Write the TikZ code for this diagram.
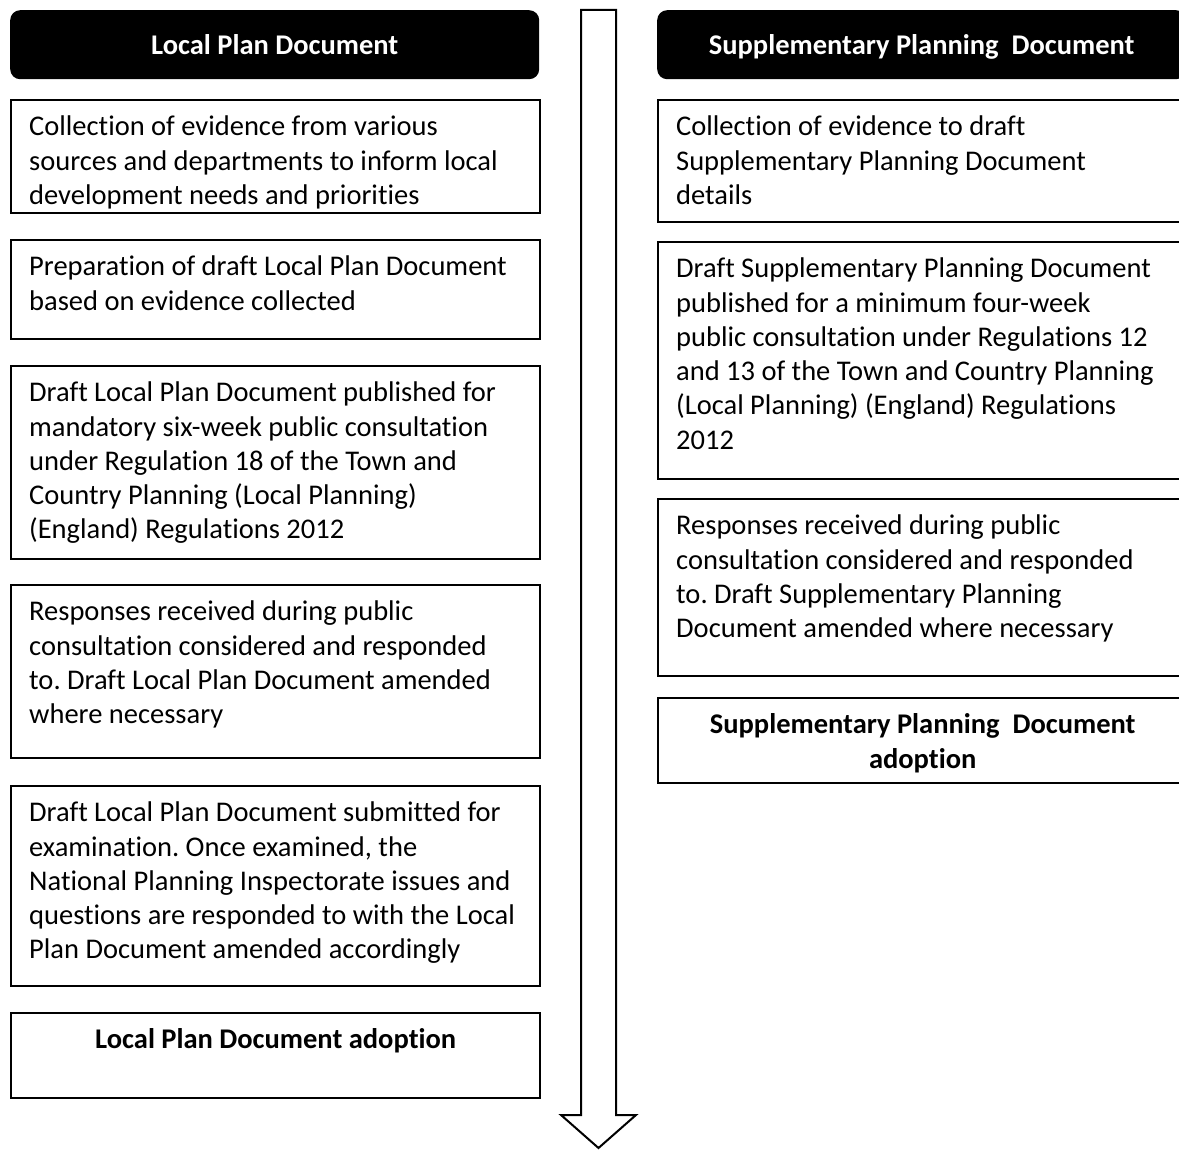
\documentclass[tikz,border=0pt]{standalone}
\usepackage{fontspec}
\setmainfont{Carlito}[Ligatures=NoCommon]
\frenchspacing

\newcommand{\stagetext}[2]{\parbox[c][#1][t]{493pt}{\raggedright\vspace*{11.5pt}\strut#2}}
\newcommand{\stagebold}[2]{\parbox[c][#1][t]{493pt}{\centering\bfseries\vspace*{11.5pt}\strut#2}}

\begin{document}
\begin{tikzpicture}[x=1pt,y=-1pt,
    every node/.style={font=\fontsize{28.5pt}{34.3pt}\selectfont},
    head/.style={fill=black,rounded corners=10pt,anchor=north west,
      minimum width=529pt,minimum height=69pt,inner sep=0pt,
      text height=24pt,text depth=5pt,
      text=white,font=\fontsize{28.5pt}{30pt}\selectfont\bfseries},
    stage/.style={draw,line width=2.4pt,anchor=north west,
      inner xsep=18pt,inner ysep=0pt,minimum width=529pt},
    flow/.style={draw,line width=2pt,fill=white,line join=miter}]
                    \useasboundingbox (0,0) rectangle (1179,1150);
                    \clip (0,0) rectangle (1179,1150);

                    % the long arrow down the middle
                    \draw[flow] (581,10) -- (616,10) -- (616,1115) -- (636,1115)
                        -- (598.5,1148) -- (561,1115) -- (581,1115) -- cycle;

                    % local plan side
                    \node[head] (lphead) at (10,10) {Local Plan Document};
                    \node[stage] (lp1) at (10,99) {\stagetext{113pt}{Collection of evidence from various\\ sources and departments to inform local\\ development needs and priorities}};
                    \node[stage] (lp2) at (10,239) {\stagetext{99pt}{Preparation of draft Local Plan Document\\ based on evidence collected}};
                    \node[stage] (lp3) at (10,365) {\stagetext{193pt}{Draft Local Plan Document published for\\ mandatory six-week public consultation\\ under Regulation 18 of the Town and\\ Country Planning (Local Planning)\\ (England) Regulations 2012}};
                    \node[stage] (lp4) at (10,584) {\stagetext{173pt}{Responses received during public\\ consultation considered and responded\\ to. Draft Local Plan Document amended\\ where necessary}};
                    \node[stage] (lp5) at (10,785) {\stagetext{200pt}{Draft Local Plan Document submitted for\\ examination. Once examined, the\\ National Planning Inspectorate issues and\\ questions are responded to with the Local\\ Plan Document amended accordingly}};
                    \node[stage] (lp6) at (10,1012) {\stagebold{85pt}{Local Plan Document adoption}};

                    % supplementary planning side
                    \node[head] (sphead) at (657,10) {Supplementary Planning~ Document};
                    \node[stage] (sp1) at (657,99) {\stagetext{122pt}{Collection of evidence to draft\\ Supplementary Planning Document\\ details}};
                    \node[stage] (sp2) at (657,241) {\stagetext{237pt}{Draft Supplementary Planning Document\\ published for a minimum four-week\\ public consultation under Regulations 12\\ and 13 of the Town and Country Planning\\ (Local Planning) (England) Regulations\\ 2012}};
                    \node[stage] (sp3) at (657,498) {\stagetext{177pt}{Responses received during public\\ consultation considered and responded\\ to. Draft Supplementary Planning\\ Document amended where necessary}};
                    \node[stage] (sp4) at (657,697) {\stagebold{85pt}{Supplementary Planning~ Document\\ adoption}};
                \end{tikzpicture}
\end{document}
